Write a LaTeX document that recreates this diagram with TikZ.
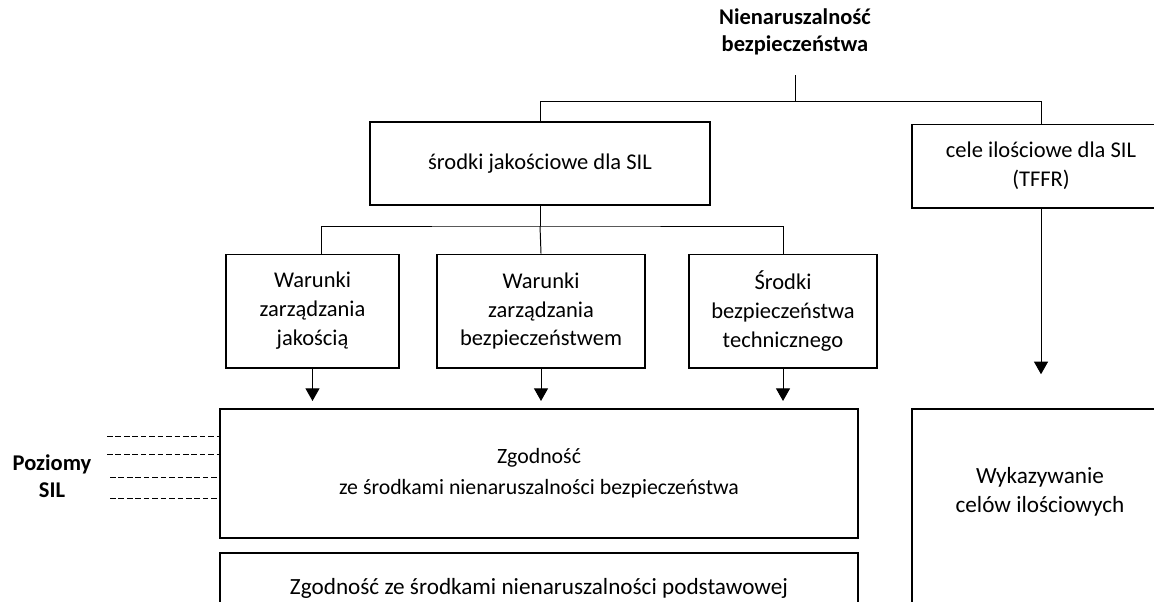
\documentclass[tikz,border=0pt]{standalone}
\usepackage{fontspec}
\setmainfont{Carlito}
\usetikzlibrary{arrows.meta, positioning}

\begin{document}
\begin{tikzpicture}[x=0.025cm, y=-0.025cm,
    box/.style={draw, line width=1.4pt, align=center, inner sep=0pt,
                font=\fontsize{16}{20.6}\selectfont},
    txt/.style={align=center, inner sep=0pt, font=\fontsize{16.5}{20.6}\selectfont},
    head/.style={align=center, inner sep=0pt, font=\bfseries\fontsize{16}{19.2}\selectfont},
    conn/.style={line width=0.7pt},
    arr/.style={conn, -{Triangle[length=9pt, width=10pt]}},
    lvl/.style={line width=0.7pt, dash pattern=on 4pt off 2pt}]
\useasboundingbox (0,0) rectangle (1154,601);
\clip (0,0) rectangle (1154,601);

        % Draw the boxes
        \node[head] at (795, 32)     (nb)     {Nienaruszalność\\bezpieczeństwa};
        \coordinate (nbfoot) at (795, 75);
        \node[box, minimum width=8.5cm, minimum height=2.075cm] at (540, 163.5)   (sj)    {środki jakościowe dla SIL};
        \node[box, minimum width=6.45cm, minimum height=2.075cm] at (1041, 166)   (cel)   {cele ilościowe dla SIL\\(TFFR)};
        \node[box, minimum width=4.325cm, minimum height=2.825cm] at (312.5, 311) (wa)    {Warunki\\zarządzania\\jakością};
        \node[box, minimum width=5.2cm, minimum height=2.825cm] at (541, 311)     (wb)    {Warunki\\zarządzania\\bezpieczeństwem};
        \node[box, minimum width=4.7cm, minimum height=2.825cm] at (783, 311)     (wc)    {Środki\\bezpieczeństwa\\technicznego};
        \node[box, minimum width=15.95cm, minimum height=3.225cm,
              font=\fontsize{15.5}{22}\selectfont] at (539, 473.5)                (zg)    {Zgodność\\ze środkami nienaruszalności bezpieczeństwa};
        \node[box, minimum width=15.95cm, minimum height=1.75cm,
              font=\fontsize{16.5}{20.6}\selectfont] at (539, 588)                (zp)    {Zgodność ze środkami nienaruszalności podstawowej};
        \node[box, minimum width=6.4cm, minimum height=6cm] at (1040, 529)        (wk)    {};
        \node[txt] at (1040, 492)    (wkt)    {Wykazywanie\\celów ilościowych};
        \node[head] at (52, 476)     (pz)     {Poziomy\\SIL};

        % Tree lines
\draw[conn]  (sj.north) -- ++(0,-20) coordinate (bar) -| (cel.north);
\draw[conn]  (nbfoot) -- (nbfoot |- bar);
\draw[conn]  (sj.south) -- ++(0,20) coordinate (fork);
\draw[conn]  ([xshift=0.2125cm]wa.north) |- (fork) -| (wc.north);
\draw[conn]  (fork) -- (wb.north);

        % Arrows
\draw[arr, shorten >=5pt]  (wa.south) -- (wa.south |- zg.north);
\draw[arr, shorten >=5pt]  (wb.south) -- (wb.south |- zg.north);
\draw[arr, shorten >=5pt]  (wc.south) -- (wc.south |- zg.north);
\draw[arr, shorten >=24pt] (cel.south) -- (cel.south |- wk.north);

        % SIL levels
        \coordinate (lv1) at (107, 436);
        \coordinate (lv2) at (107, 454);
        \coordinate (lv3) at (110, 477);
        \coordinate (lv4) at (110, 498);
\draw[lvl]  (lv1) -- (zg.west |- lv1);
\draw[lvl]  (lv2) -- (zg.west |- lv2);
\draw[lvl]  (lv3) -- (zg.west |- lv3);
\draw[lvl]  (lv4) -- (zg.west |- lv4);
\end{tikzpicture}
\end{document}
